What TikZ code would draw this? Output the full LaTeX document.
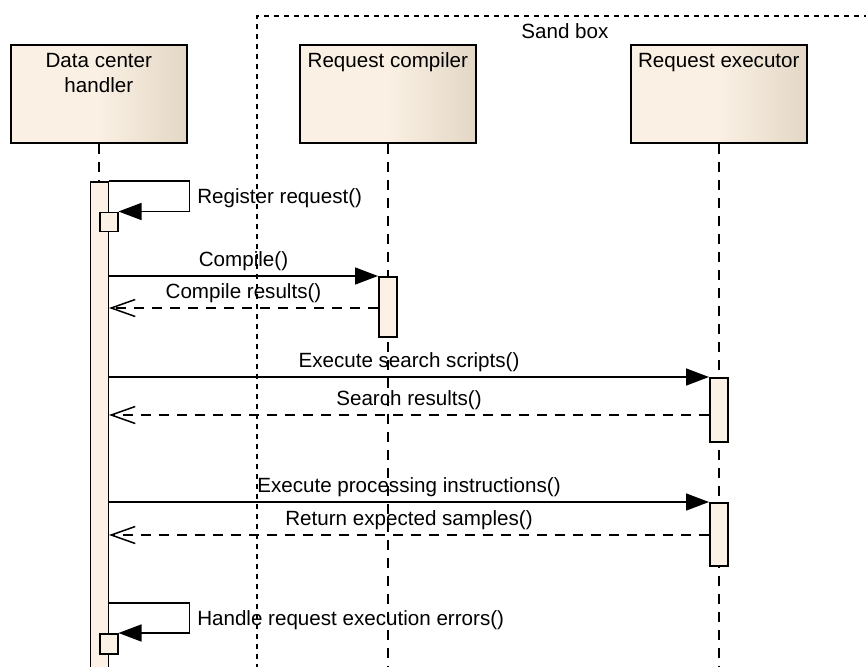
\documentclass[tikz,border=0pt]{standalone}
\usepackage{fontspec}
\setmainfont{Liberation Sans}
\usetikzlibrary{arrows.meta,shadows}

\definecolor{headlight}{HTML}{FAF0E3}
\definecolor{headdark}{HTML}{E3D8C6}
\definecolor{barfill}{HTML}{FBF1E4}

% cream-to-beige fill of the lifeline heads (box spans 25bp..75bp)
\pgfdeclarehorizontalshading{headshade}{100bp}{%
  color(0bp)=(headlight); color(25bp)=(headlight); color(50bp)=(headlight);
  color(75bp)=(headdark); color(100bp)=(headdark)}

\tikzset{
  txt/.style={font=\fontsize{20.6}{25}\selectfont, inner sep=0pt},
  head/.style={draw=black, line width=1.6pt, shading=headshade,
    minimum width=176pt, minimum height=98pt, inner sep=0pt, anchor=north west,
    drop shadow={shadow xshift=1.2pt, shadow yshift=-1.2pt, opacity=0.55, fill=black}},
  headtext/.style={txt, anchor=base},
  lifeline/.style={line width=1.9pt, dash pattern=on 10pt off 8pt},
  sandbox/.style={draw=black, line width=1.9pt, dash pattern=on 5pt off 5pt,
    anchor=north west, inner sep=0pt},
  actbar/.style={draw=black, line width=1.5pt, fill=barfill,
    minimum width=18pt, inner sep=0pt, anchor=north west},
  call/.style={line width=1.5pt, -{Triangle[length=23pt,width=17pt]}},
  ret/.style={line width=1.5pt, dash pattern=on 10pt off 8pt,
    -{Straight Barb[length=24pt,width=17pt,line width=1.5pt]}},
  msglbl/.style={txt, anchor=base, midway, yshift=10pt},
  selflbl/.style={txt, anchor=base west, midway, xshift=7pt, yshift=-7pt},
}

\begin{document}
\begin{tikzpicture}[x=1pt, y=-1pt]
\useasboundingbox (0,0) rectangle (866,666);
\clip (0,0) rectangle (866,666);

% sandbox frame around compiler and executor
\node[sandbox, minimum width=616pt, minimum height=700pt] (sb) at (256,15) {};
\coordinate (sbBase) at (0,39);
\node[headtext] (sbT) at (sb.north |- sbBase) {Sand box};

% lifeline heads
\node[head] (hh) at (10,44) {};
\node[head] (hc) at (299,44) {};
\node[head] (he) at (630,44) {};
\coordinate (line1) at (0,68);
\coordinate (line2) at (0,93);
\node[headtext] (hhT1) at (hh.center |- line1) {Data center};
\node[headtext] (hhT2) at (hh.center |- line2) {handler};
\node[headtext] (hcT) at (hc.center |- line1) {Request compiler};
\node[headtext] (heT) at (he.center |- line1) {Request executor};

% dashed lifelines, below the activation bars
\coordinate (hhEnd) at (hh.south |- 0,181);
\coordinate (hcEnd) at (hc.south |- 0,680);
\coordinate (heEnd) at (he.south |- 0,680);
\draw[lifeline] (hh.south) -- (hhEnd);
\draw[lifeline] (hc.south) -- (hcEnd);
\draw[lifeline] (he.south) -- (heEnd);

% activation bars
\node[actbar, minimum height=520pt] (actH) at (89.5,181) {};
\node[actbar, minimum height=60pt] (actC) at (378,276) {};
\node[actbar, minimum height=64pt] (actE1) at (709,377) {};
\node[actbar, minimum height=63pt] (actE2) at (709,502) {};
\node[actbar, minimum height=19pt] (selfA) at (99,211.5) {};
\node[actbar, minimum height=20pt] (selfB) at (99,633) {};

% self message: register request
\draw[call] (actH.north east) -- ++(80.5,0)
  -- node[selflbl] (m0) {Register request()} ++(0,30.5) -- (selfA.north east);

% compile round trip
\draw[call] (actH.east |- actC.north west) -- node[msglbl] (m1) {Compile()} (actC.north west);
\coordinate (r1) at ([yshift=-32pt]actC.north west);
\draw[ret] (r1) -- node[msglbl] (m2) {Compile results()} (r1 -| actH.east);

% search round trip
\draw[call] (actH.east |- actE1.north west) -- node[msglbl] (m3) {Execute search scripts()} (actE1.north west);
\coordinate (r2) at ([yshift=-38pt]actE1.north west);
\draw[ret] (r2) -- node[msglbl] (m4) {Search results()} (r2 -| actH.east);

% processing round trip
\draw[call] (actH.east |- actE2.north west) -- node[msglbl] (m5) {Execute processing instructions()} (actE2.north west);
\coordinate (r3) at ([yshift=-33pt]actE2.north west);
\draw[ret] (r3) -- node[msglbl] (m6) {Return expected samples()} (r3 -| actH.east);

% self message: error handling
\path (actH.east |- selfB.north) ++(0,-30) coordinate (s2);
\draw[call] (s2) -- ++(80.5,0)
  -- node[selflbl] (m7) {Handle request execution errors()} ++(0,30) -- (selfB.north east);
\end{tikzpicture}
\end{document}
